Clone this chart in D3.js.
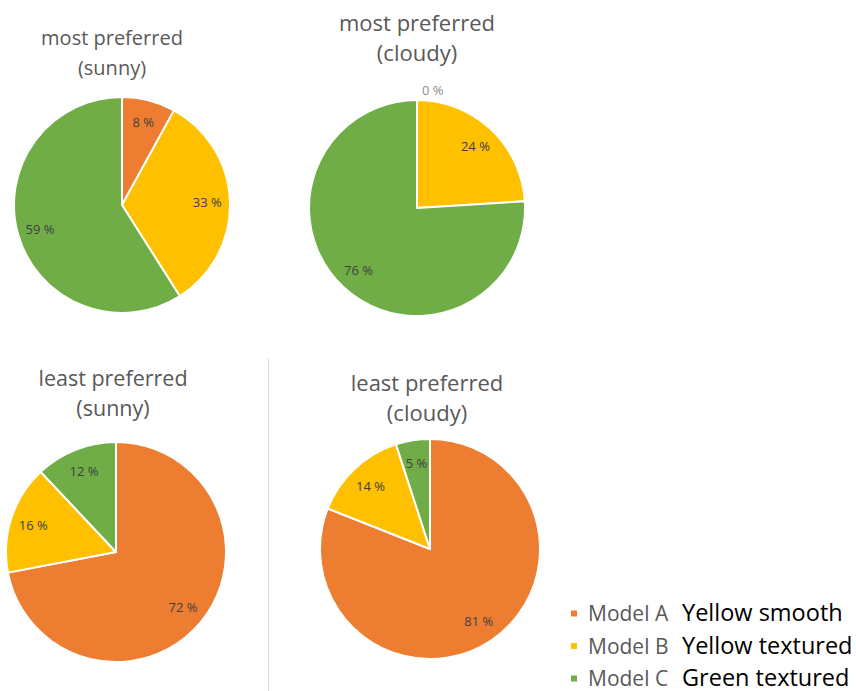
<!DOCTYPE html>
<html>
<head>
<meta charset="utf-8">
<script src="https://cdn.jsdelivr.net/npm/d3@7/dist/d3.min.js"></script>
<style>
  html, body { margin: 0; padding: 0; background: #fff; }
  svg { display: block; }
  text { font-family: "Open Sans", "Noto Sans", sans-serif; }
</style>
</head>
<body>
<svg id="chart" width="856" height="691"></svg>
<script>
// Models shown in each pie, in drawing order (clockwise from 12 o'clock)
const models = ["Model A", "Model B", "Model C"];
const modelNames = ["Yellow smooth", "Yellow textured", "Green textured"];
const modelColors = ["#ED7D31", "#FFC000", "#70AD47"];

// Share of votes (%) for each model
const mostSunny = [8, 33, 59];
const mostCloudy = [0, 24, 76];
const leastSunny = [72, 16, 12];
const leastCloudy = [81, 14, 5];

const chartTitles = [
  ["most preferred", "(sunny)"],
  ["most preferred", "(cloudy)"],
  ["least preferred", "(sunny)"],
  ["least preferred", "(cloudy)"]
];

const panels = [
  { values: mostSunny,   title: chartTitles[0], cx: 122, cy: 205, r: 108, tx: 112, ty: 45,  fs: 20 },
  { values: mostCloudy,  title: chartTitles[1], cx: 417, cy: 208, r: 108, tx: 417, ty: 31,  fs: 22 },
  { values: leastSunny,  title: chartTitles[2], cx: 116, cy: 552, r: 110, tx: 113, ty: 386, fs: 21.5 },
  { values: leastCloudy, title: chartTitles[3], cx: 430, cy: 549, r: 110, tx: 427, ty: 391, fs: 22 }
];

const svg = d3.select("#chart");
const color = d3.scaleOrdinal().domain(models).range(modelColors);

const pie = d3.pie().sort(null).value(d => d.value);

panels.forEach(p => {
  const data = models.map((m, i) => ({ model: m, value: p.values[i] }));
  const arcs = pie(data);
  const arc = d3.arc().innerRadius(0).outerRadius(p.r);
  const labelArc = d3.arc().innerRadius(p.r * 0.79).outerRadius(p.r * 0.79);

  const g = svg.append("g").attr("transform", `translate(${p.cx},${p.cy})`);

  g.selectAll("path.slice")
    .data(arcs.filter(a => a.value > 0))
    .join("path")
    .attr("class", "slice")
    .attr("d", arc)
    .attr("fill", d => color(d.data.model))
    .attr("stroke", "#fff")
    .attr("stroke-width", 2)
    .attr("stroke-linejoin", "round");

  // Percentage labels: inside the slice, or just above the rim for empty slices
  g.selectAll("text.pct")
    .data(arcs)
    .join("text")
    .attr("class", "pct")
    .each(function(d) {
      const t = d3.select(this);
      if (d.value > 0) {
        const [x, y] = labelArc.centroid(d);
        t.attr("x", x).attr("y", y)
          .attr("text-anchor", "middle")
          .attr("fill", "#404040");
      } else {
        const a = d.startAngle;
        t.attr("x", Math.sin(a) * (p.r + 10) + 5)
          .attr("y", -Math.cos(a) * (p.r + 10))
          .attr("text-anchor", "start")
          .attr("fill", "#8c8c8c");
      }
    })
    .attr("dominant-baseline", "central")
    .attr("font-size", 13)
    .text(d => `${d.value} %`);

  // Two-line title
  const title = svg.append("text")
    .attr("x", p.tx)
    .attr("y", p.ty)
    .attr("text-anchor", "middle")
    .attr("fill", "#595959")
    .attr("font-size", p.fs);
  p.title.forEach((line, i) => {
    title.append("tspan")
      .attr("x", p.tx)
      .attr("dy", i === 0 ? 0 : 30)
      .text(line);
  });
});

// Divider between the two lower charts
svg.append("line")
  .attr("x1", 268.5).attr("x2", 268.5)
  .attr("y1", 358).attr("y2", 691)
  .attr("stroke", "#dcdcdc")
  .attr("stroke-width", 1);

// Legend
const legend = svg.append("g").attr("transform", "translate(571,621)");
const rows = legend.selectAll("g.row")
  .data(models)
  .join("g")
  .attr("class", "row")
  .attr("transform", (d, i) => `translate(0,${i * 32.5})`);

rows.append("rect")
  .attr("x", 0).attr("y", -10.5)
  .attr("width", 6).attr("height", 6)
  .attr("fill", d => color(d));

rows.append("text")
  .attr("x", 17).attr("y", 0)
  .attr("fill", "#595959")
  .attr("font-size", 21)
  .text(d => d);

rows.append("text")
  .attr("x", 111).attr("y", 0)
  .attr("fill", "#000")
  .attr("font-size", 23.5)
  .text((d, i) => modelNames[i]);
</script>
</body>
</html>
